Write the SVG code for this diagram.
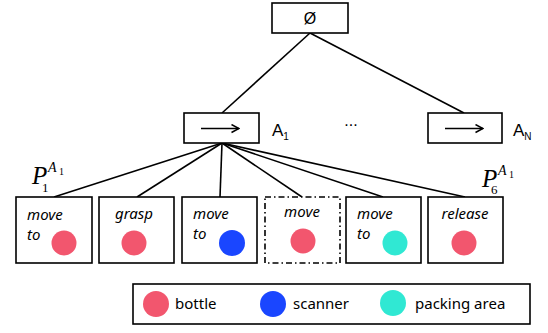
<svg xmlns="http://www.w3.org/2000/svg" width="548" height="333" viewBox="0 0 548 333">
  <defs>
    <style>
      .box { fill: #fff; stroke: #000; stroke-width: 1.6; }
      .dashbox { fill: #fff; stroke: #000; stroke-width: 1.6; stroke-dasharray: 6 3 1.5 3; }
      .edge { stroke: #000; stroke-width: 1.6; fill: none; }
      .act { font-family: "Noto Sans", "Liberation Sans", sans-serif; font-style: italic; font-size: 15px; fill: #000; }
      .lbl { font-family: "Liberation Sans", Arial, sans-serif; font-size: 16px; fill: #000; }
      .alb { font-family: "Liberation Sans", Arial, sans-serif; font-size: 17px; fill: #000; }
      .leg { font-family: "Noto Sans", "Liberation Sans", sans-serif; font-size: 15px; fill: #000; }
      .math { font-family: "Liberation Serif", "Times New Roman", serif; font-style: italic; fill: #000; }
      .num { font-family: "Liberation Serif", "Times New Roman", serif; fill: #000; }
      .red { fill: #F2566E; }
      .blue { fill: #1A46FF; }
      .teal { fill: #30E8D3; }
    </style>
    <marker id="head" viewBox="0 0 10 10" refX="9" refY="5" markerWidth="10" markerHeight="10" orient="auto" markerUnits="userSpaceOnUse">
      <path d="M1.5,1 L9,5 L1.5,9" fill="none" stroke="#000" stroke-width="1.5"/>
    </marker>
  </defs>

  <!-- connectors -->
  <g id="edges">
    <line class="edge" x1="310" y1="33" x2="222" y2="113"/>
    <line class="edge" x1="310" y1="33" x2="464" y2="113"/>
    <line class="edge" x1="222" y1="143" x2="54" y2="197"/>
    <line class="edge" x1="222" y1="143" x2="137" y2="197"/>
    <line class="edge" x1="222" y1="143" x2="220" y2="197"/>
    <line class="edge" x1="222" y1="143" x2="302" y2="197"/>
    <line class="edge" x1="222" y1="143" x2="383" y2="197"/>
    <line class="edge" x1="222" y1="143" x2="465" y2="197"/>
  </g>

  <!-- root -->
  <g id="root">
    <rect class="box" x="272" y="3" width="76" height="30"/>
    <text class="lbl" x="310" y="24" text-anchor="middle">Ø</text>
  </g>

  <!-- action A1 -->
  <g id="a1">
    <rect class="box" x="184" y="113" width="75" height="30"/>
    <line x1="201" y1="128.5" x2="239" y2="128.5" stroke="#000" stroke-width="1.6" marker-end="url(#head)"/>
    <text class="alb" x="272" y="136">A<tspan font-size="10" dy="4">1</tspan></text>
  </g>

  <g id="ellipsis">
    <text class="lbl" x="351" y="126" text-anchor="middle">...</text>
  </g>

  <!-- action AN -->
  <g id="an">
    <rect class="box" x="428" y="113" width="74" height="30"/>
    <line x1="445" y1="128.5" x2="483" y2="128.5" stroke="#000" stroke-width="1.6" marker-end="url(#head)"/>
    <text class="alb" x="513" y="136">A<tspan font-size="10" dy="4">N</tspan></text>
  </g>

  <!-- plan labels -->
  <g id="p1">
    <text class="math" x="32" y="184" font-size="25">P</text>
    <text class="num" x="42" y="192" font-size="13">1</text>
    <text class="math" x="48" y="172" font-size="14">A</text>
    <text class="num" x="59" y="175" font-size="10">1</text>
  </g>
  <g id="p6">
    <text class="math" x="482" y="187" font-size="25">P</text>
    <text class="num" x="491" y="194" font-size="13">6</text>
    <text class="math" x="498" y="175" font-size="14">A</text>
    <text class="num" x="509" y="178" font-size="10">1</text>
  </g>

  <!-- plan steps -->
  <g id="s1">
    <rect class="box" x="16" y="197" width="76" height="66"/>
    <text class="act" x="27" y="220">move</text>
    <text class="act" x="27" y="240">to</text>
    <circle class="red" cx="64" cy="243" r="12.5"/>
  </g>
  <g id="s2">
    <rect class="box" x="99" y="197" width="75" height="66"/>
    <text class="act" x="134" y="219" text-anchor="middle">grasp</text>
    <circle class="red" cx="134" cy="243" r="12.5"/>
  </g>
  <g id="s3">
    <rect class="box" x="182" y="197" width="75" height="66"/>
    <text class="act" x="193" y="219">move</text>
    <text class="act" x="193" y="239">to</text>
    <circle class="blue" cx="232" cy="243" r="13"/>
  </g>
  <g id="s4">
    <rect class="dashbox" x="265" y="197" width="75" height="66"/>
    <text class="act" x="302" y="217" text-anchor="middle">move</text>
    <circle class="red" cx="303" cy="241" r="12.5"/>
  </g>
  <g id="s5">
    <rect class="box" x="346" y="197" width="75" height="66"/>
    <text class="act" x="357" y="219">move</text>
    <text class="act" x="357" y="239">to</text>
    <circle class="teal" cx="395" cy="243" r="12.5"/>
  </g>
  <g id="s6">
    <rect class="box" x="428" y="197" width="75" height="66"/>
    <text class="act" x="465" y="219" text-anchor="middle">release</text>
    <circle class="red" cx="464" cy="243" r="12.5"/>
  </g>

  <!-- legend -->
  <g id="legend">
    <rect class="box" x="133" y="284" width="397" height="40"/>
    <circle class="red" cx="156" cy="304" r="13"/>
    <text class="leg" x="175" y="309">bottle</text>
    <circle class="blue" cx="273" cy="304" r="13"/>
    <text class="leg" x="293" y="309">scanner</text>
    <circle class="teal" cx="393" cy="303" r="13"/>
    <text class="leg" x="415" y="309">packing area</text>
  </g>
</svg>
